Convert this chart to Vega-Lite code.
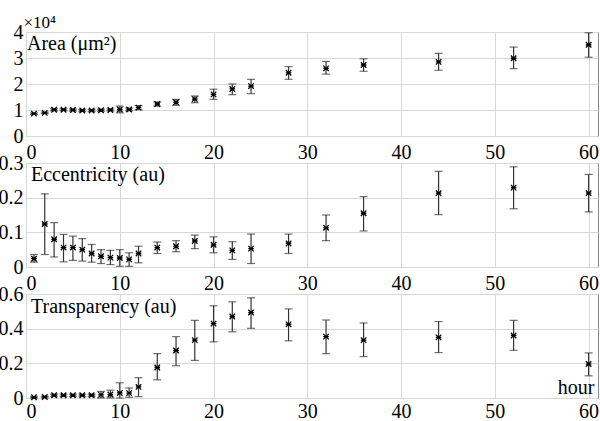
{
  "$schema": "https://vega.github.io/schema/vega-lite/v6.json",
  "background": "white",
  "padding": {"left": -3, "top": 12, "right": 0, "bottom": 0},
  "config": {
    "font": "Liberation Serif",
    "view": {"stroke": "#8c8c8c", "strokeWidth": 1},
    "axis": {"labelFont": "Liberation Serif", "titleFont": "Liberation Serif", "labelFontSize": 20, "labelColor": "black", "titleColor": "black", "titleFontWeight": "normal", "gridColor": "#d8d8d8", "gridWidth": 1, "domain": false, "ticks": false, "labelPadding": 3},
    "title": {"font": "Liberation Serif", "fontSize": 20, "fontWeight": "normal", "color": "black", "anchor": "start", "frame": "group"}
  },
  "datasets": {
    "d": [
      {"panel": "area", "hour": 0.85, "mean": 8600, "lo": 8300, "hi": 8900},
      {"panel": "area", "hour": 2, "mean": 8900, "lo": 8600, "hi": 9200},
      {"panel": "area", "hour": 3, "mean": 10100, "lo": 9700, "hi": 10500},
      {"panel": "area", "hour": 4, "mean": 10100, "lo": 9700, "hi": 10500},
      {"panel": "area", "hour": 5, "mean": 10000, "lo": 9600, "hi": 10400},
      {"panel": "area", "hour": 6, "mean": 9800, "lo": 9400, "hi": 10200},
      {"panel": "area", "hour": 7, "mean": 9800, "lo": 9400, "hi": 10200},
      {"panel": "area", "hour": 8, "mean": 9900, "lo": 9500, "hi": 10300},
      {"panel": "area", "hour": 9, "mean": 10000, "lo": 9600, "hi": 10400},
      {"panel": "area", "hour": 10, "mean": 10200, "lo": 8900, "hi": 11500},
      {"panel": "area", "hour": 11, "mean": 10200, "lo": 9700, "hi": 10700},
      {"panel": "area", "hour": 12, "mean": 10900, "lo": 10100, "hi": 11700},
      {"panel": "area", "hour": 14, "mean": 12300, "lo": 11500, "hi": 13100},
      {"panel": "area", "hour": 16, "mean": 13000, "lo": 11800, "hi": 14100},
      {"panel": "area", "hour": 18, "mean": 14200, "lo": 12800, "hi": 15400},
      {"panel": "area", "hour": 20, "mean": 16000, "lo": 14100, "hi": 18000},
      {"panel": "area", "hour": 22, "mean": 18100, "lo": 15900, "hi": 20000},
      {"panel": "area", "hour": 24, "mean": 19200, "lo": 16300, "hi": 21800},
      {"panel": "area", "hour": 28, "mean": 24300, "lo": 21800, "hi": 26700},
      {"panel": "area", "hour": 32, "mean": 26000, "lo": 23800, "hi": 28700},
      {"panel": "area", "hour": 36, "mean": 27300, "lo": 24900, "hi": 29700},
      {"panel": "area", "hour": 44, "mean": 28500, "lo": 25300, "hi": 31800},
      {"panel": "area", "hour": 52, "mean": 29900, "lo": 25900, "hi": 34200},
      {"panel": "area", "hour": 60, "mean": 35100, "lo": 30300, "hi": 39700},

      {"panel": "ecc", "hour": 0.85, "mean": 0.024, "lo": 0.014, "hi": 0.036},
      {"panel": "ecc", "hour": 2, "mean": 0.124, "lo": 0.036, "hi": 0.211},
      {"panel": "ecc", "hour": 3, "mean": 0.080, "lo": 0.029, "hi": 0.128},
      {"panel": "ecc", "hour": 4, "mean": 0.056, "lo": 0.015, "hi": 0.094},
      {"panel": "ecc", "hour": 5, "mean": 0.056, "lo": 0.019, "hi": 0.089},
      {"panel": "ecc", "hour": 6, "mean": 0.050, "lo": 0.017, "hi": 0.082},
      {"panel": "ecc", "hour": 7, "mean": 0.039, "lo": 0.014, "hi": 0.065},
      {"panel": "ecc", "hour": 8, "mean": 0.031, "lo": 0.010, "hi": 0.050},
      {"panel": "ecc", "hour": 9, "mean": 0.027, "lo": 0.007, "hi": 0.048},
      {"panel": "ecc", "hour": 10, "mean": 0.026, "lo": 0.002, "hi": 0.050},
      {"panel": "ecc", "hour": 11, "mean": 0.022, "lo": 0.002, "hi": 0.041},
      {"panel": "ecc", "hour": 12, "mean": 0.039, "lo": 0.012, "hi": 0.060},
      {"panel": "ecc", "hour": 14, "mean": 0.056, "lo": 0.039, "hi": 0.072},
      {"panel": "ecc", "hour": 16, "mean": 0.060, "lo": 0.044, "hi": 0.076},
      {"panel": "ecc", "hour": 18, "mean": 0.075, "lo": 0.053, "hi": 0.092},
      {"panel": "ecc", "hour": 20, "mean": 0.064, "lo": 0.041, "hi": 0.087},
      {"panel": "ecc", "hour": 22, "mean": 0.048, "lo": 0.022, "hi": 0.073},
      {"panel": "ecc", "hour": 24, "mean": 0.053, "lo": 0.010, "hi": 0.095},
      {"panel": "ecc", "hour": 28, "mean": 0.068, "lo": 0.039, "hi": 0.095},
      {"panel": "ecc", "hour": 32, "mean": 0.113, "lo": 0.076, "hi": 0.150},
      {"panel": "ecc", "hour": 36, "mean": 0.155, "lo": 0.104, "hi": 0.203},
      {"panel": "ecc", "hour": 44, "mean": 0.213, "lo": 0.151, "hi": 0.276},
      {"panel": "ecc", "hour": 52, "mean": 0.229, "lo": 0.168, "hi": 0.289},
      {"panel": "ecc", "hour": 60, "mean": 0.213, "lo": 0.159, "hi": 0.267},

      {"panel": "tra", "hour": 0.85, "mean": 0.004, "lo": 0.0, "hi": 0.007},
      {"panel": "tra", "hour": 2, "mean": 0.006, "lo": 0.001, "hi": 0.010},
      {"panel": "tra", "hour": 3, "mean": 0.016, "lo": 0.009, "hi": 0.022},
      {"panel": "tra", "hour": 4, "mean": 0.016, "lo": 0.009, "hi": 0.022},
      {"panel": "tra", "hour": 5, "mean": 0.016, "lo": 0.009, "hi": 0.022},
      {"panel": "tra", "hour": 6, "mean": 0.016, "lo": 0.009, "hi": 0.022},
      {"panel": "tra", "hour": 7, "mean": 0.016, "lo": 0.009, "hi": 0.022},
      {"panel": "tra", "hour": 8, "mean": 0.018, "lo": 0.0, "hi": 0.038},
      {"panel": "tra", "hour": 9, "mean": 0.020, "lo": 0.0, "hi": 0.045},
      {"panel": "tra", "hour": 10, "mean": 0.029, "lo": 0.0, "hi": 0.088},
      {"panel": "tra", "hour": 11, "mean": 0.028, "lo": 0.004, "hi": 0.058},
      {"panel": "tra", "hour": 12, "mean": 0.064, "lo": 0.008, "hi": 0.117},
      {"panel": "tra", "hour": 14, "mean": 0.176, "lo": 0.105, "hi": 0.256},
      {"panel": "tra", "hour": 16, "mean": 0.274, "lo": 0.186, "hi": 0.354},
      {"panel": "tra", "hour": 18, "mean": 0.334, "lo": 0.217, "hi": 0.448},
      {"panel": "tra", "hour": 20, "mean": 0.429, "lo": 0.324, "hi": 0.532},
      {"panel": "tra", "hour": 22, "mean": 0.470, "lo": 0.382, "hi": 0.555},
      {"panel": "tra", "hour": 24, "mean": 0.493, "lo": 0.402, "hi": 0.578},
      {"panel": "tra", "hour": 28, "mean": 0.425, "lo": 0.330, "hi": 0.514},
      {"panel": "tra", "hour": 32, "mean": 0.354, "lo": 0.256, "hi": 0.450},
      {"panel": "tra", "hour": 36, "mean": 0.334, "lo": 0.239, "hi": 0.433},
      {"panel": "tra", "hour": 44, "mean": 0.350, "lo": 0.262, "hi": 0.441},
      {"panel": "tra", "hour": 52, "mean": 0.361, "lo": 0.275, "hi": 0.448},
      {"panel": "tra", "hour": 60, "mean": 0.196, "lo": 0.128, "hi": 0.260}
    ]
  },
  "data": {"name": "d"},
  "spacing": 27,
  "bounds": "flush",
  "vconcat": [
    {
      "width": 572, "height": 104,
      "title": {"text": "Area (μm²)", "offset": -41, "dx": 1},
      "transform": [{"filter": "datum.panel === 'area'"}],
      "encoding": {
        "x": {"field": "hour", "type": "quantitative", "scale": {"domain": [0, 61], "nice": false}, "axis": {"title": null, "values": [0, 10, 20, 30, 40, 50, 60], "labelPadding": 6}}
      },
      "layer": [
        {"mark": {"type": "rule", "color": "#333333", "strokeWidth": 1.2},
         "encoding": {
           "y": {"field": "lo", "type": "quantitative", "scale": {"domain": [0, 40000], "nice": false}, "axis": {"values": [0, 10000, 20000, 30000, 40000], "labelExpr": "format(datum.value/10000, 'd')", "title": "×10⁴", "titleAngle": 0, "titleAlign": "left", "titleBaseline": "alphabetic", "titleX": -3, "titleY": -5, "titleFontSize": 17}},
           "y2": {"field": "hi"}}},
        {"mark": {"type": "tick", "orient": "horizontal", "size": 8, "thickness": 1.2, "color": "#333333"},
         "encoding": {
           "y": {"field": "lo", "type": "quantitative", "scale": {"domain": [0, 40000], "nice": false}, "axis": {"values": [0, 10000, 20000, 30000, 40000], "labelExpr": "format(datum.value/10000, 'd')", "title": "×10⁴", "titleAngle": 0, "titleAlign": "left", "titleBaseline": "alphabetic", "titleX": -3, "titleY": -5, "titleFontSize": 17}}}},
        {"mark": {"type": "tick", "orient": "horizontal", "size": 8, "thickness": 1.2, "color": "#333333"},
         "encoding": {
           "y": {"field": "hi", "type": "quantitative", "scale": {"domain": [0, 40000], "nice": false}, "axis": {"values": [0, 10000, 20000, 30000, 40000], "labelExpr": "format(datum.value/10000, 'd')", "title": "×10⁴", "titleAngle": 0, "titleAlign": "left", "titleBaseline": "alphabetic", "titleX": -3, "titleY": -5, "titleFontSize": 17}}}},
        {"mark": {"type": "point", "shape": "M-1,-1L1,1M-1,1L1,-1M-1,0L1,0", "size": 30, "filled": false, "strokeWidth": 1.3, "color": "black", "opacity": 1},
         "encoding": {
           "y": {"field": "mean", "type": "quantitative", "scale": {"domain": [0, 40000], "nice": false}, "axis": {"values": [0, 10000, 20000, 30000, 40000], "labelExpr": "format(datum.value/10000, 'd')", "title": "×10⁴", "titleAngle": 0, "titleAlign": "left", "titleBaseline": "alphabetic", "titleX": -3, "titleY": -5, "titleFontSize": 17}}}}
      ]
    },
    {
      "width": 572, "height": 104,
      "title": {"text": "Eccentricity (au)", "offset": -32, "dx": 5},
      "transform": [{"filter": "datum.panel === 'ecc'"}],
      "encoding": {
        "x": {"field": "hour", "type": "quantitative", "scale": {"domain": [0, 61], "nice": false}, "axis": {"title": null, "values": [0, 10, 20, 30, 40, 50, 60], "labelPadding": 6}}
      },
      "layer": [
        {"mark": {"type": "rule", "color": "#333333", "strokeWidth": 1.2},
         "encoding": {
           "y": {"field": "lo", "type": "quantitative", "scale": {"domain": [0, 0.3], "nice": false}, "axis": {"title": null, "values": [0, 0.1, 0.2, 0.3], "format": "~g"}},
           "y2": {"field": "hi"}}},
        {"mark": {"type": "tick", "orient": "horizontal", "size": 8, "thickness": 1.2, "color": "#333333"},
         "encoding": {
           "y": {"field": "lo", "type": "quantitative", "scale": {"domain": [0, 0.3], "nice": false}, "axis": {"title": null, "values": [0, 0.1, 0.2, 0.3], "format": "~g"}}}},
        {"mark": {"type": "tick", "orient": "horizontal", "size": 8, "thickness": 1.2, "color": "#333333"},
         "encoding": {
           "y": {"field": "hi", "type": "quantitative", "scale": {"domain": [0, 0.3], "nice": false}, "axis": {"title": null, "values": [0, 0.1, 0.2, 0.3], "format": "~g"}}}},
        {"mark": {"type": "point", "shape": "M-1,-1L1,1M-1,1L1,-1M-1,0L1,0", "size": 30, "filled": false, "strokeWidth": 1.3, "color": "black", "opacity": 1},
         "encoding": {
           "y": {"field": "mean", "type": "quantitative", "scale": {"domain": [0, 0.3], "nice": false}, "axis": {"title": null, "values": [0, 0.1, 0.2, 0.3], "format": "~g"}}}}
      ]
    },
    {
      "width": 572, "height": 104,
      "title": {"text": "Transparency (au)", "offset": -33, "dx": 5},
      "transform": [{"filter": "datum.panel === 'tra'"}],
      "encoding": {
        "x": {"field": "hour", "type": "quantitative", "scale": {"domain": [0, 61], "nice": false}, "axis": {"title": "hour", "values": [0, 10, 20, 30, 40, 50, 60], "labelPadding": 3, "titleX": 568, "titleY": -5, "titleAlign": "right", "titleBaseline": "alphabetic", "titleFontSize": 20}}
      },
      "layer": [
        {"mark": {"type": "rule", "color": "#333333", "strokeWidth": 1.2},
         "encoding": {
           "y": {"field": "lo", "type": "quantitative", "scale": {"domain": [0, 0.6], "nice": false}, "axis": {"title": null, "values": [0, 0.2, 0.4, 0.6], "format": "~g"}},
           "y2": {"field": "hi"}}},
        {"mark": {"type": "tick", "orient": "horizontal", "size": 8, "thickness": 1.2, "color": "#333333"},
         "encoding": {
           "y": {"field": "lo", "type": "quantitative", "scale": {"domain": [0, 0.6], "nice": false}, "axis": {"title": null, "values": [0, 0.2, 0.4, 0.6], "format": "~g"}}}},
        {"mark": {"type": "tick", "orient": "horizontal", "size": 8, "thickness": 1.2, "color": "#333333"},
         "encoding": {
           "y": {"field": "hi", "type": "quantitative", "scale": {"domain": [0, 0.6], "nice": false}, "axis": {"title": null, "values": [0, 0.2, 0.4, 0.6], "format": "~g"}}}},
        {"mark": {"type": "point", "shape": "M-1,-1L1,1M-1,1L1,-1M-1,0L1,0", "size": 30, "filled": false, "strokeWidth": 1.3, "color": "black", "opacity": 1},
         "encoding": {
           "y": {"field": "mean", "type": "quantitative", "scale": {"domain": [0, 0.6], "nice": false}, "axis": {"title": null, "values": [0, 0.2, 0.4, 0.6], "format": "~g"}}}}
      ]
    }
  ]
}
